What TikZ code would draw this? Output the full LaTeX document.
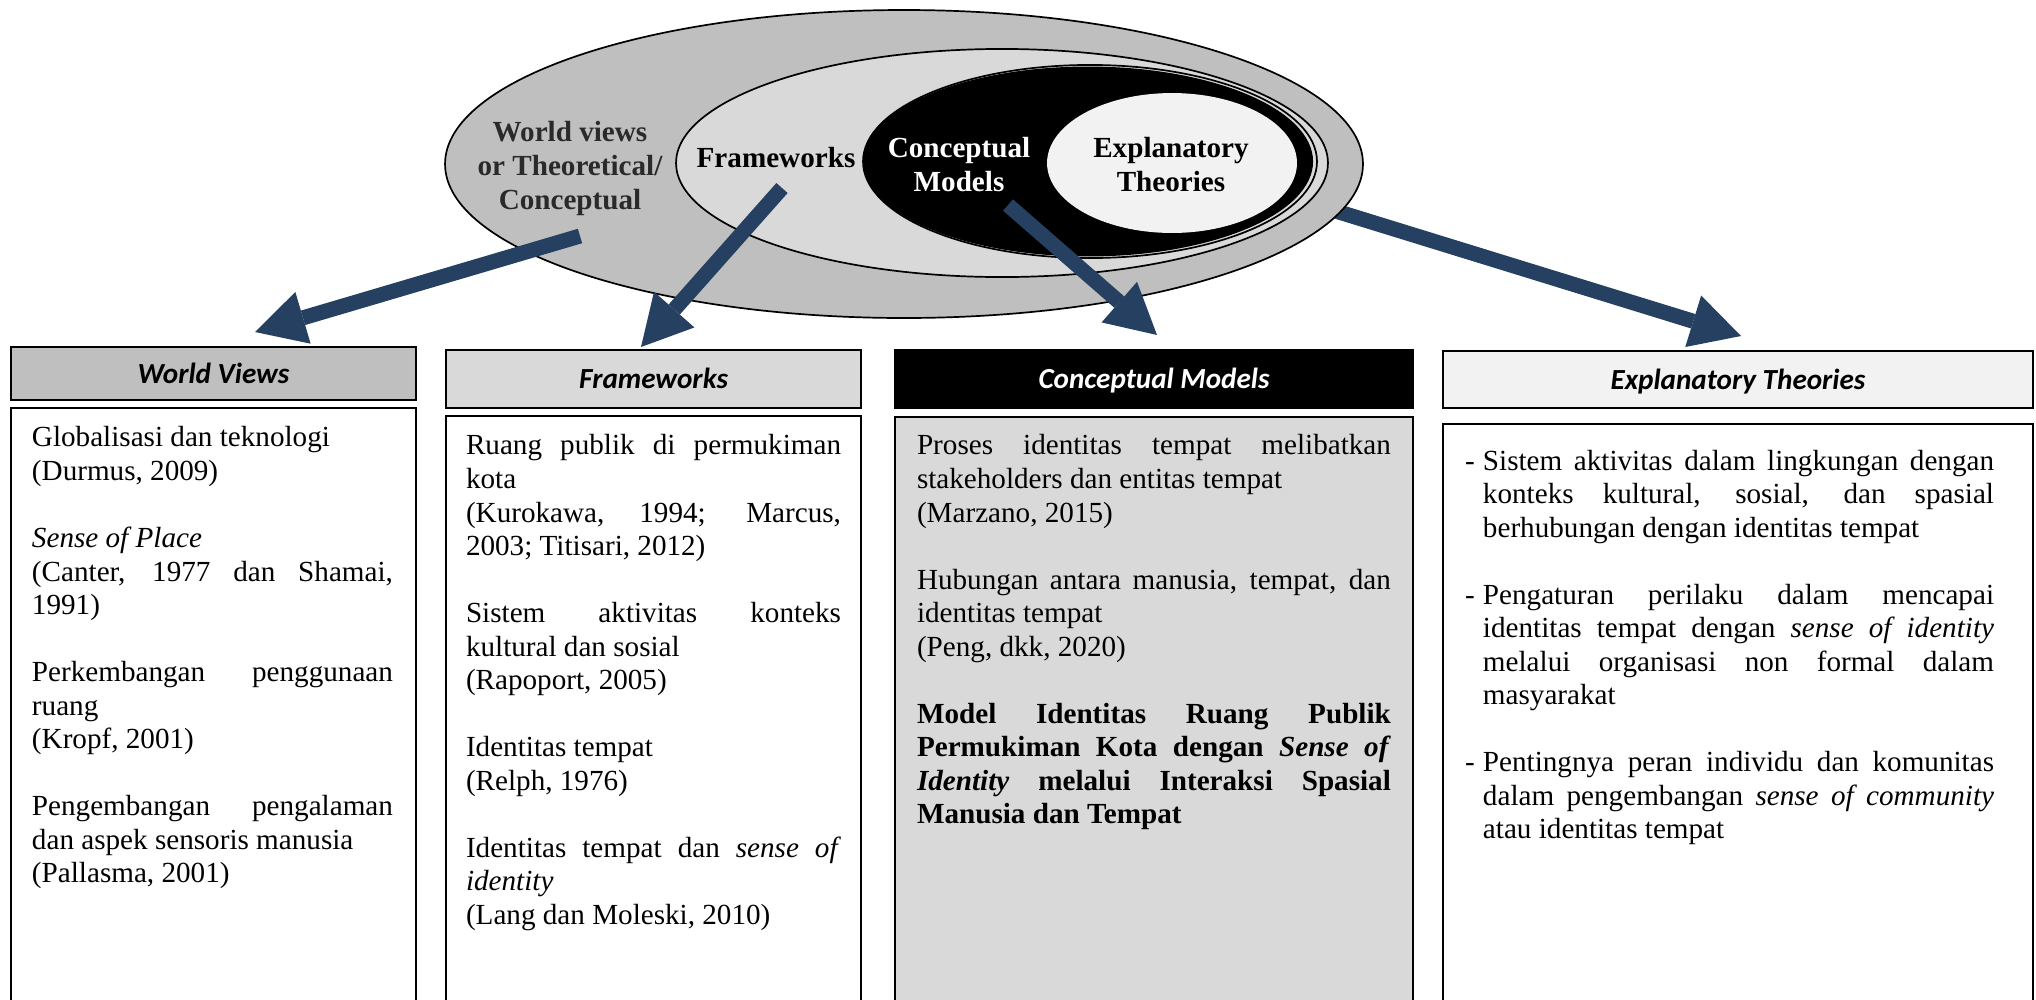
\documentclass[tikz,border=0pt]{standalone}
\usepackage{fontspec}
\setmainfont{Liberation Serif}[
  UprightFont={Liberation Serif},
  ItalicFont={Liberation Serif Italic},
  BoldFont={Liberation Serif Bold},
  BoldItalicFont={Liberation Serif Bold Italic}]
\newfontfamily\hdrfont{Carlito}[
  UprightFont={Carlito},
  ItalicFont={Carlito Italic},
  BoldFont={Carlito Bold},
  BoldItalicFont={Carlito Bold Italic}]
\usetikzlibrary{shapes.geometric,arrows.meta}
\definecolor{ringA}{HTML}{BFBFBF}
\definecolor{ringB}{HTML}{D9D9D9}
\definecolor{ringD}{HTML}{F2F2F2}
\definecolor{arrowblue}{RGB}{38,64,97}
\definecolor{darktext}{HTML}{2A2A2A}
% body text setup: 12pt serif, justified, no hyphenation
\newcommand\bodyfont{\fontsize{12}{13.8}\selectfont\tolerance=10000\hbadness=10000\hyphenpenalty=10000\exhyphenpenalty=10000\parindent=0pt}
\newcommand\pgap{\par\vspace{13.8pt}}
\newcommand\etitem{\par\hangindent=7.4pt\hangafter=1\noindent\makebox[7.4pt][l]{-}}
\begin{document}
\begin{tikzpicture}[x=0.4117pt,y=-0.4117pt,
  every node/.style={inner sep=0pt, outer sep=0pt},
  ring/.style={ellipse, draw=black, line width=0.7pt},
  bigarrow/.style={draw=arrowblue, line width=6.2pt,
    -{Triangle[length=20.6pt,width=22.2pt,line width=0pt]}},
  hdr/.style={draw=black, line width=0.8pt, anchor=north west,
    font=\hdrfont\fontsize{12}{14}\selectfont\bfseries\itshape,
    text height=8.2pt, text depth=0pt},
  bodybox/.style={draw=black, line width=0.8pt, anchor=north west, minimum height=260pt},
  bodytext/.style={anchor=north west, align=justify, font=\bodyfont},
  ringtext/.style={align=center, font=\fontsize{12}{13.8}\selectfont\bfseries},
]
\useasboundingbox (0,0) rectangle (2036,999);
\clip (0,0) rectangle (2036,999);

% arrow anchor points
\coordinate (wvfrom) at (580,236);
\coordinate (wvto)   at (255,332);
\coordinate (fwfrom) at (782,188);
\coordinate (fwto)   at (641,347);
\coordinate (cmfrom) at (1008,205);
\coordinate (cmto)   at (1157,335);
\coordinate (etfrom) at (1300,200);
\coordinate (etto)   at (1741,336);

% the arrow to the explanatory theories runs behind the rings
\draw[bigarrow] (etfrom) -- (etto);

% nested rings
\node[ring, fill=ringA, minimum width=377.9pt, minimum height=126.8pt] (outer) at (904,164) {};
\node[ring, fill=ringB, minimum width=268.4pt, minimum height=93.9pt] (middle) at (1002,163) {};
\node[ellipse, fill=black, minimum width=185.3pt, minimum height=78.2pt] (inner) at (1088,161.5) {};
\node[ring, minimum width=186.9pt, minimum height=79.5pt] (innerrim) at (1090,161.5) {};
\node[ellipse, fill=ringD, minimum width=102.9pt, minimum height=57.6pt] (core) at (1172,163) {};

% ring labels
\node[ringtext, anchor=north, text=darktext] (wvlabel) at (570,118.5)
  {\strut World views\\or Theoretical/\\Conceptual};
\node[ringtext, anchor=base] (fwlabel) at (776,167) {Frameworks};
\node[ringtext, anchor=north, text=white] (cmlabel) at (959,134.5)
  {\strut Conceptual\\Models};
\node[ringtext, anchor=north] (etlabel) at (1171,134.5)
  {\strut Explanatory\\Theories};

% arrows drawn over the rings
\draw[bigarrow] (wvfrom) -- (wvto);
\draw[bigarrow] (fwfrom) -- (fwto);
\draw[bigarrow] (cmfrom) -- (cmto);

% column headers
\node[hdr, fill=ringA, minimum width=166.7pt, minimum height=21.8pt] (wvh) at (11,347) {World Views};
\node[hdr, fill=ringB, minimum width=170.9pt, minimum height=23.9pt] (fwh) at (446,350) {Frameworks};
\node[hdr, fill=black, text=white, minimum width=213.3pt, minimum height=23.9pt] (cmh) at (895,350) {Conceptual Models};
\node[hdr, fill=ringD, minimum width=242.9pt, minimum height=23.5pt] (eth) at (1443,351) {Explanatory Theories};

% column bodies
\node[bodybox, minimum width=166.7pt] (wvb) at (11,408) {};
\node[bodybox, minimum width=170.9pt] (fwb) at (446,416) {};
\node[bodybox, fill=ringB, minimum width=213.3pt] (cmb) at (895,417) {};
\node[bodybox, minimum width=242.9pt] (etb) at (1443,424) {};

% column texts
\node[bodytext, text width=148.6pt] (wvt) at (32,423.5) {\strut
Globalisasi dan teknologi\newline
(Durmus, 2009)\pgap
\textit{Sense of Place}\newline
(Canter, 1977 dan Shamai,\linebreak 1991)\pgap
Perkembangan penggunaan\linebreak ruang\newline
(Kropf, 2001)\pgap
Pengembangan pengalaman\linebreak dan aspek sensoris manusia\newline
(Pallasma, 2001)\par};

\node[bodytext, text width=154.4pt] (fwt) at (466,431.5) {\strut
Ruang publik di permukiman\linebreak kota\newline
(Kurokawa, 1994; Marcus,\linebreak 2003; Titisari, 2012)\pgap
Sistem aktivitas konteks\linebreak kultural dan sosial\newline
(Rapoport, 2005)\pgap
Identitas tempat\newline
(Relph, 1976)\pgap
Identitas tempat dan \textit{sense of}\linebreak \textit{identity}\newline
(Lang dan Moleski, 2010)\par};

\node[bodytext, text width=195.1pt] (cmt) at (917,431.5) {\strut
Proses identitas tempat melibatkan\linebreak stakeholders dan entitas tempat\newline
(Marzano, 2015)\pgap
Hubungan antara manusia, tempat, dan\linebreak identitas tempat\newline
(Peng, dkk, 2020)\pgap
\textbf{Model Identitas Ruang Publik\linebreak Permukiman Kota dengan \textit{Sense of}\linebreak \textit{Identity} melalui Interaksi Spasial\linebreak Manusia dan Tempat}\par};

\node[bodytext, text width=217.8pt] (ett) at (1465,436.5) {%
\etitem\strut Sistem aktivitas dalam lingkungan dengan\linebreak konteks kultural, sosial, dan spasial\linebreak berhubungan dengan identitas tempat\pgap
\etitem Pengaturan perilaku dalam mencapai\linebreak identitas tempat dengan \textit{sense of identity}\linebreak melalui organisasi non formal dalam\linebreak masyarakat\pgap
\etitem Pentingnya peran individu dan komunitas\linebreak dalam pengembangan \textit{sense of community}\linebreak atau identitas tempat\par};
\end{tikzpicture}
\end{document}
